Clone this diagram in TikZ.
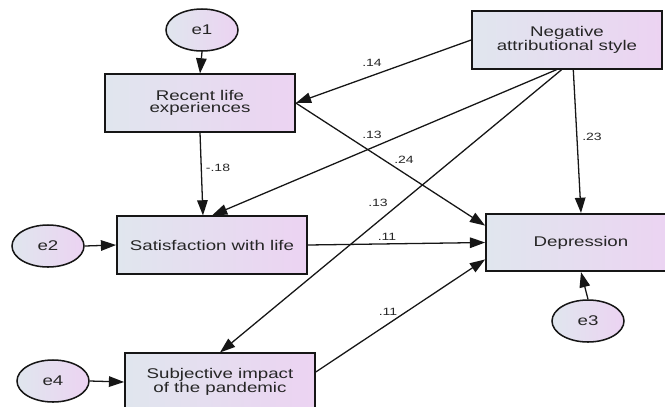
\documentclass[tikz,border=0pt]{standalone}
\usepackage{fontspec}
\setmainfont[FakeStretch=1.33]{Liberation Sans}
\usepackage{tikz}
\usetikzlibrary{arrows.meta,shapes.geometric}

\definecolor{boxL}{RGB}{224,230,238}
\definecolor{boxR}{RGB}{236,211,242}
\definecolor{ink}{RGB}{22,22,22}
\definecolor{txt}{RGB}{38,38,38}

\begin{document}
\begin{tikzpicture}[x=0.03cm, y=-0.03cm,
    var/.style={draw=ink, line width=1.5pt, left color=boxL, right color=boxR,
      minimum width=5.7cm, minimum height=1.72cm, inner sep=0pt, align=center,
      text=txt, font=\fontsize{12}{10.8}\selectfont},
    err/.style={ellipse, draw=ink, line width=1.3pt, left color=boxL, right color=boxR,
      minimum width=2.16cm, minimum height=1.26cm, inner sep=0pt,
      text=txt, font=\fontsize{12}{12}\selectfont},
    arr/.style={draw=ink, line width=1.1pt, -{Triangle[length=13pt,width=9pt]}},
    lab/.style={text=txt, inner sep=0pt, font=\fontsize{9}{9}\selectfont}]
      \useasboundingbox (0,0) rectangle (665,406);

      % observed variables
      \node[var] (nas) at (567,40) {Negative\\attributional style};
      \node[var] (rle) at (200,103) {Recent life\\experiences};
      \node[var] (swl) at (212,245) {Satisfaction with life};
      \node[var] (sip) at (220,382) {Subjective impact\\of the pandemic};
      \node[var] (dep) at (581,242.5) {Depression};

      % error terms
      \node[err] (e1) at (202,30) {e1};
      \node[err] (e2) at (48,246) {e2};
      \node[err] (e3) at (588,321) {e3};
      \node[err] (e4) at (53,381) {e4};

      \draw[arr] (e1.south) -- (rle.north);
      \draw[arr] (e2.east) -- (swl.west);
      \draw[arr] (e3.north) -- (dep.south);
      \draw[arr] (e4.east) -- (sip.west);

      \draw[arr] (nas.west) -- (rle.east);
      \draw[arr] (nas.251) -- (swl.north);
      \draw[arr] (nas.260) -- (sip.north);
      \draw[arr] (nas.282) -- (dep.north);
      \draw[arr] (rle.south) -- (swl.107);
      \draw[arr] (rle.east) -- (dep.170);
      \draw[arr] (swl.east) -- (dep.west);
      \draw[arr] (sip.6) -- (dep.190);

      % path coefficients
      \node[lab] (c14) at (372,63) {.14};
      \node[lab] (c13a) at (372,135) {.13};
      \node[lab] (c24) at (404,160) {.24};
      \node[lab] (c13b) at (378,203) {.13};
      \node[lab] (c11a) at (387,237) {.11};
      \node[lab] (c11b) at (388,312) {.11};
      \node[lab] (c23) at (592,137) {.23};
      \node[lab] (c18) at (218,168) {-.18};
    \end{tikzpicture}
\end{document}
